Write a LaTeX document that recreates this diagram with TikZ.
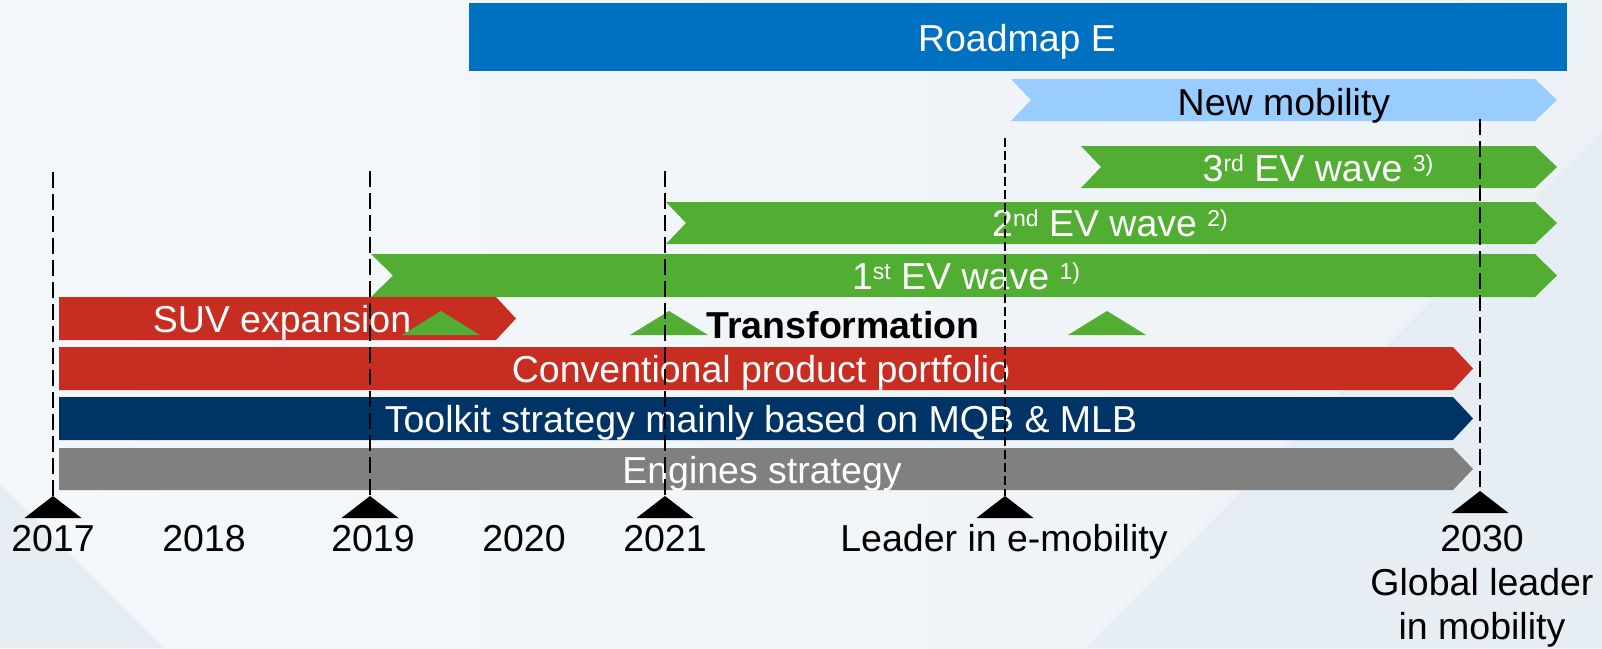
\documentclass[tikz,border=0pt]{standalone}
\usepackage{fontspec}
\setmainfont{Liberation Sans}
\usetikzlibrary{calc}
\definecolor{roadmapblue}{HTML}{0070C0}
\definecolor{mobilityblue}{HTML}{99CCFF}
\definecolor{evgreen}{HTML}{52AE32}
\definecolor{suvred}{HTML}{C82D22}
\definecolor{toolkitnavy}{HTML}{003366}
\definecolor{enginegray}{HTML}{808080}
\definecolor{bgleft}{HTML}{F5F8FB}
\definecolor{bgright}{HTML}{EDF2F6}
\definecolor{bgshade}{HTML}{E7EEF3}
\newcommand{\evsup}[1]{\raisebox{10pt}{\fontsize{23}{23}\selectfont #1}}
\tikzset{
    bar-text/.style={
        anchor=base, inner sep=0pt, text=white, font=\fontsize{37.5}{44}\selectfont
    },
    dark-text/.style={
        bar-text, text=black
    },
    year-line/.style={
        dash pattern=on 16pt off 6pt, line width=2.2pt
    },
    goal-line/.style={
        dash pattern=on 9pt off 4pt, line width=1.3pt
    },
    year-mark/.style={
        fill=black
    },
    wave-mark/.style={
        fill=evgreen
    },
}

\begin{document}
\begin{tikzpicture}[x=1pt, y=-1pt]

        % BACKGROUND
        \useasboundingbox (0,0) rectangle (1602,648);
        \shade[left color=bgleft, right color=bgright] (0,0) rectangle (1602,648);
        \fill[bgshade] (0,483) -- (165,648) -- (0,648) -- cycle;
        \fill[bgshade] (1602,130) -- (1602,648) -- (1085,648) -- cycle;

        % ROADMAP, NEW MOBILITY
        \fill[roadmapblue]  (469,3) rectangle (1567,71);
        \fill[mobilityblue] (1011,79) -- (1535,79) -- (1557,100) -- (1535,121) -- (1011,121) -- (1031,100) -- cycle;
        \node[bar-text]  (ROADMAP) at (1017,51)  {Roadmap E};
        \node[dark-text] (NEWMOB)  at (1284,115) {New mobility};

        % EV WAVES
        \fill[evgreen] (1081,146) -- (1535,146) -- (1557,167) -- (1535,188) -- (1081,188) -- (1101,167) -- cycle;
        \fill[evgreen] (666,202)  -- (1535,202) -- (1557,223) -- (1535,244) -- (666,244)  -- (686,223)  -- cycle;
        \fill[evgreen] (371,254)  -- (1535,254) -- (1557,275.5) -- (1535,297) -- (371,297) -- (393,275.5) -- cycle;
        \node[bar-text] (EV3) at (1318,181) {3\evsup{rd} EV wave \evsup{3)}};
        \node[bar-text] (EV2) at (1110,236) {2\evsup{nd} EV wave \evsup{2)}};
        \node[bar-text] (EV1) at (966,289)  {1\evsup{st} EV wave \evsup{1)}};

        % CONVENTIONAL BARS
        \fill[suvred]      (59,297) -- (496,297)  -- (516,318.5)  -- (496,340)  -- (59,340) -- cycle;
        \fill[suvred]      (59,347) -- (1453,347) -- (1473,368.5) -- (1453,390) -- (59,390) -- cycle;
        \fill[toolkitnavy] (59,397) -- (1453,397) -- (1473,418.5) -- (1453,440) -- (59,440) -- cycle;
        \fill[enginegray]  (59,448) -- (1453,448) -- (1473,469)   -- (1453,490) -- (59,490) -- cycle;
        \node[bar-text] (SUV)     at (282,332) {SUV expansion};
        \node[bar-text] (CONV)    at (761,382) {Conventional product portfolio};
        \node[bar-text] (TOOLKIT) at (761,432) {Toolkit strategy mainly based on MQB \& MLB};
        \node[bar-text] (ENGINES) at (762,483) {Engines strategy};

        % TRANSFORMATION
        \fill[wave-mark] (441,311)  -- (480,335)  -- (402,335)  -- cycle;
        \fill[wave-mark] (669,311)  -- (708,335)  -- (630,335)  -- cycle;
        \fill[wave-mark] (1107,311) -- (1146,335) -- (1068,335) -- cycle;
        \node[dark-text, font=\fontsize{37.5}{44}\selectfont\bfseries] (TRANSF) at (843,338) {Transformation};

        % MILESTONE LINES
        \coordinate (TOP2017)   at (53,172);   \coordinate (MARK2017)   at (53,496);
        \coordinate (TOP2019)   at (370,171);  \coordinate (MARK2019)   at (370,496);
        \coordinate (TOP2021)   at (665,171);  \coordinate (MARK2021)   at (665,496);
        \coordinate (TOPLEADER) at (1005,138); \coordinate (MARKLEADER) at (1005,496);
        \coordinate (TOP2030)   at (1480,119); \coordinate (MARK2030)   at (1480,491);
        \draw[year-line] (TOP2017)   -- (MARK2017);
        \draw[year-line] (TOP2019)   -- (MARK2019);
        \draw[year-line] (TOP2021)   -- (MARK2021);
        \draw[goal-line] (TOPLEADER) -- (MARKLEADER);
        \draw[year-line] (TOP2030)   -- (MARK2030);

        % MILESTONE MARKS
        \fill[year-mark] (MARK2017)   -- ++(28.5,22) -- ++(-57,0) -- cycle;
        \fill[year-mark] (MARK2019)   -- ++(28.5,22) -- ++(-57,0) -- cycle;
        \fill[year-mark] (MARK2021)   -- ++(28.5,22) -- ++(-57,0) -- cycle;
        \fill[year-mark] (MARKLEADER) -- ++(28.5,22) -- ++(-57,0) -- cycle;
        \fill[year-mark] (MARK2030)   -- ++(28.5,22) -- ++(-57,0) -- cycle;

        % YEAR LABELS
        \node[dark-text] (Y2017)  at (53,551)   {2017};
        \node[dark-text] (Y2018)  at (204,551)  {2018};
        \node[dark-text] (Y2019)  at (373,551)  {2019};
        \node[dark-text] (Y2020)  at (524,551)  {2020};
        \node[dark-text] (Y2021)  at (665,551)  {2021};
        \node[dark-text] (LEADER) at (1004,551) {Leader in e-mobility};
        \node[dark-text, anchor=north, align=center] (Y2030) at (1482,525) {2030\\Global leader\\in mobility};

\end{tikzpicture}
\end{document}
